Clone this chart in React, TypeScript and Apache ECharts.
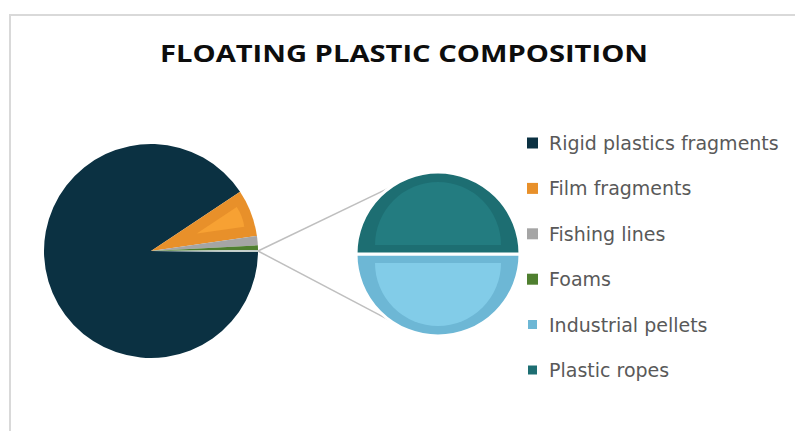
import React, { useEffect, useRef } from "react";
import * as echarts from "echarts";

const titleText = "FLOATING PLASTIC COMPOSITION";
const categories = [
  "Rigid plastics fragments",
  "Film fragments",
  "Fishing lines",
  "Foams",
  "Industrial pellets",
  "Plastic ropes",
];
const values = [90.5, 7.1, 1.4, 0.7, 0.15, 0.15];
const splitIndex = 4; // items from this index go into the secondary pie
const otherName = "Other";

const baseColors = ["#0B3142", "#E8902A", "#A5A5A5", "#4F7F2F", "#6DB7D5", "#1D6E72"];
const bevelColors = ["#0B3142", "#F7A133", "#A5A5A5", "#4F7F2F", "#82CCE8", "#237C80"];
const otherColor = "#C3CDCA";

const MAIN_C = [151, 251];
const MAIN_R = 107;
const SEC_C = [438, 254];
const SEC_R = 82;
const CONNECT_ANGLE = 126; // degrees on secondary circle

const TITLE_FONT = "bold 23px 'Open Sans'";
const TITLE_WIDTH = 488;

export default function App() {
  const ref = useRef<HTMLDivElement>(null);
  useEffect(() => {
    if (!ref.current) return;
    const chart = echarts.init(ref.current, null, { renderer: "svg" });

    let titleScale = 1.2;
    try {
      const ctx = document.createElement("canvas").getContext("2d");
      if (ctx) {
        ctx.font = TITLE_FONT;
        const w = ctx.measureText(titleText).width;
        if (w > 0) titleScale = TITLE_WIDTH / w;
      }
    } catch (e) {}

    const mainVals = values.slice(0, splitIndex);
    const secVals = values.slice(splitIndex);
    const otherVal = secVals.reduce((a, b) => a + b, 0);
    const total = mainVals.reduce((a, b) => a + b, 0) + otherVal;
    const otherDeg = (otherVal / total) * 360;
    const startAngle = -otherDeg / 2;

    const mainBase = mainVals
      .map((v, i) => ({ name: categories[i], value: v, itemStyle: { color: baseColors[i] } }))
      .concat([{ name: otherName, value: otherVal, itemStyle: { color: otherColor } }]);
    const mainBevel = mainVals
      .map((v, i) => ({
        name: categories[i],
        value: v,
        selected: i === 1,
        itemStyle: { color: i === 1 ? bevelColors[i] : "rgba(0,0,0,0)" },
      }))
      .concat([{ name: otherName, value: otherVal, selected: false, itemStyle: { color: "rgba(0,0,0,0)" } }]);

    const secBase = secVals.map((v, k) => ({
      name: categories[splitIndex + k],
      value: v,
      itemStyle: { color: baseColors[splitIndex + k] },
    }));
    const secBevel = secVals.map((v, k) => ({
      name: categories[splitIndex + k],
      value: v,
      selected: true,
      itemStyle: { color: bevelColors[splitIndex + k] },
    }));

    const tip = [MAIN_C[0] + MAIN_R, MAIN_C[1]];
    const a = (CONNECT_ANGLE * Math.PI) / 180;
    const p1 = [SEC_C[0] + SEC_R * Math.cos(a), SEC_C[1] - SEC_R * Math.sin(a)];
    const p2 = [SEC_C[0] + SEC_R * Math.cos(a), SEC_C[1] + SEC_R * Math.sin(a)];

    const common = {
      type: "pie",
      label: { show: false },
      labelLine: { show: false },
      clockwise: true,
      emphasis: { disabled: true },
    };

    chart.setOption({
      animation: false,
      backgroundColor: "#ffffff",
      legend: {
        orient: "vertical",
        left: 526,
        top: 132,
        padding: 0,
        icon: "rect",
        itemWidth: 11,
        itemHeight: 11,
        itemGap: 23.4,
        selectedMode: false,
        data: categories,
        textStyle: {
          fontFamily: "DejaVu Sans",
          fontSize: 19,
          lineHeight: 22,
          color: "#595959",
          padding: [0, 0, 0, 6],
        },
      },
      graphic: [
        {
          type: "rect",
          shape: { x: 10, y: 15, width: 820, height: 460 },
          style: { fill: "none", stroke: "#D9D9D9", lineWidth: 2 },
          silent: true,
        },
        {
          type: "text",
          x: 404,
          y: 53,
          scaleX: titleScale,
          silent: true,
          style: {
            x: 0,
            y: 0,
            text: titleText,
            font: TITLE_FONT,
            fill: "#0D0D0D",
            align: "center",
            verticalAlign: "middle",
          },
        },
        {
          type: "line",
          shape: { x1: tip[0], y1: tip[1], x2: p1[0], y2: p1[1] },
          style: { stroke: "#BFBFBF", lineWidth: 1.5 },
          silent: true,
          z: -1,
        },
        {
          type: "line",
          shape: { x1: tip[0], y1: tip[1], x2: p2[0], y2: p2[1] },
          style: { stroke: "#BFBFBF", lineWidth: 1.5 },
          silent: true,
          z: -1,
        },
      ],
      series: [
        {
          ...common,
          name: "main",
          center: MAIN_C,
          radius: MAIN_R,
          startAngle,
          data: mainBase,
        },
        {
          ...common,
          name: "secondary",
          center: SEC_C,
          radius: SEC_R,
          startAngle: 0,
          itemStyle: { borderColor: "#ffffff", borderWidth: 3 },
          data: secBase,
        },
        {
          ...common,
          name: "mainBevel",
          silent: true,
          center: MAIN_C,
          radius: 48,
          startAngle,
          selectedMode: "multiple",
          selectedOffset: 49,
          data: mainBevel,
        },
        {
          ...common,
          name: "secBevel",
          silent: true,
          center: SEC_C,
          radius: 63,
          startAngle: 0,
          selectedMode: "multiple",
          selectedOffset: 9,
          data: secBevel,
        },
      ],
    });
    return () => chart.dispose();
  }, []);
  return (
    <div
      ref={ref}
      style={{ position: "fixed", left: 0, top: 0, width: 795, height: 431 }}
    />
  );
}
